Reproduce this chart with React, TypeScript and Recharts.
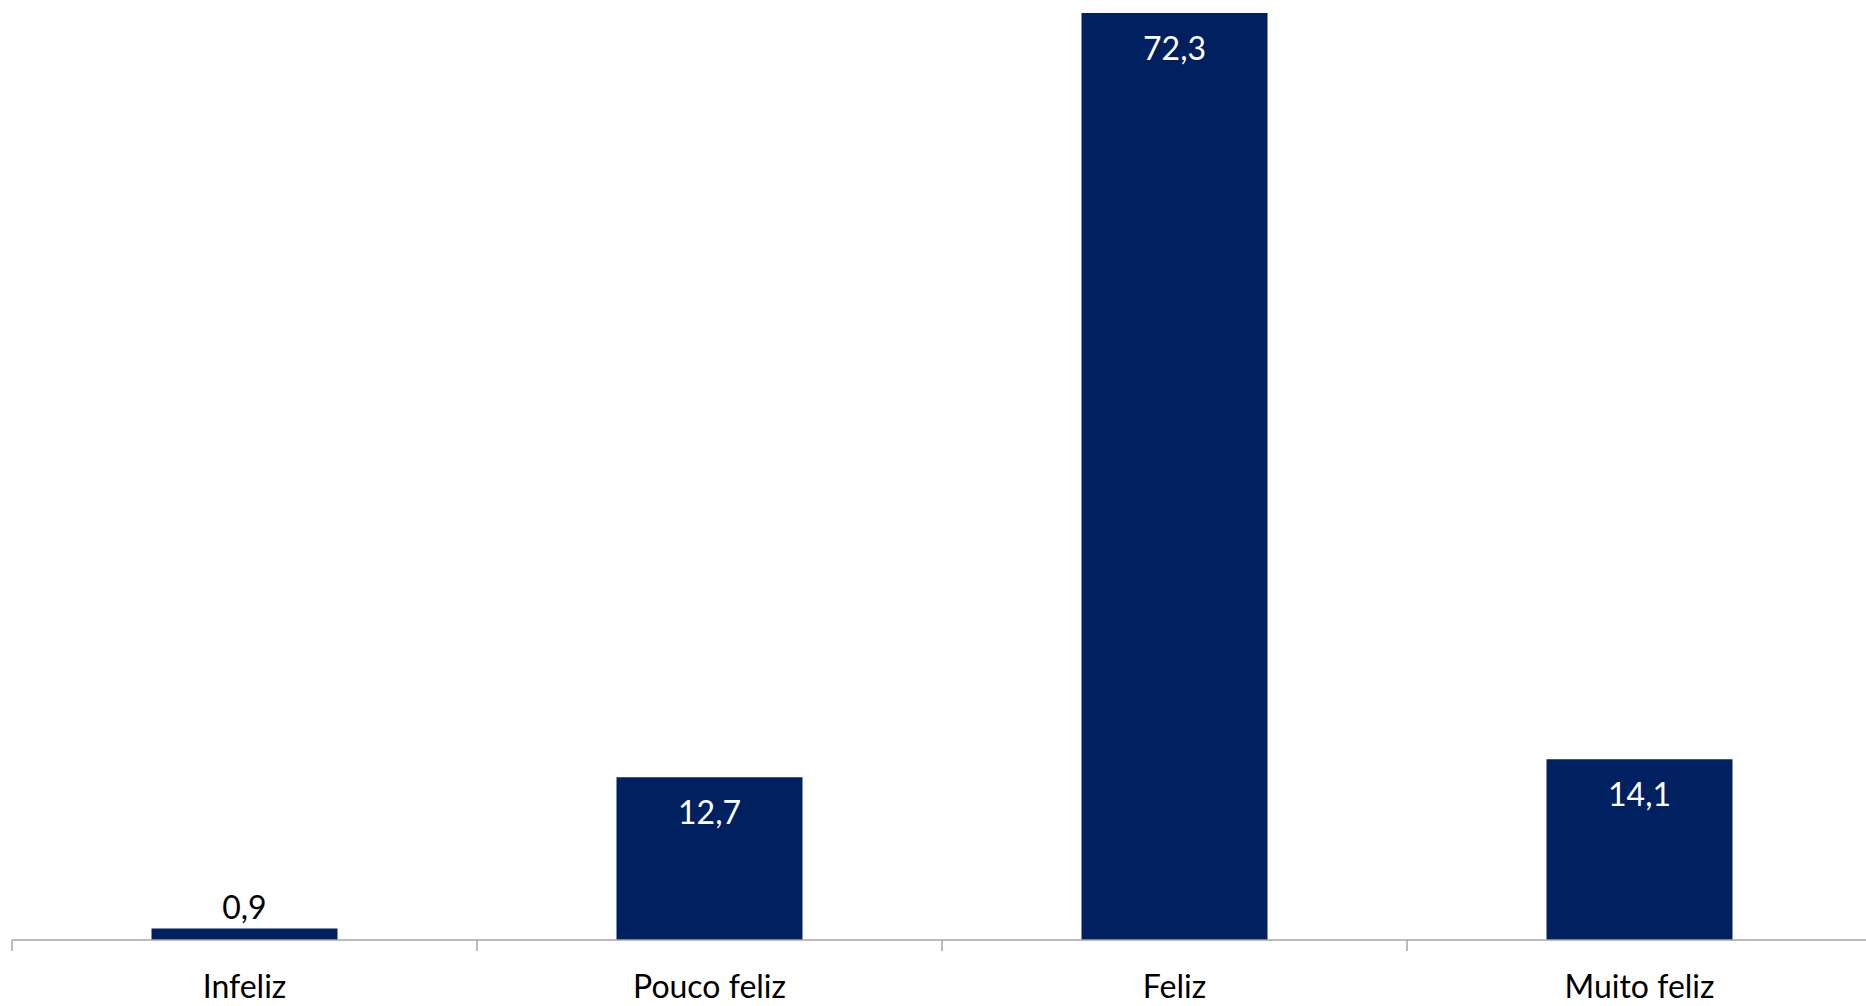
import { Bar, BarChart, LabelList, XAxis, YAxis } from 'recharts'

const categories = ['Infeliz', 'Pouco feliz', 'Feliz', 'Muito feliz']
const values = [0.9, 12.7, 72.3, 14.1]

const data = categories.map((name, i) => ({ name, value: values[i] }))

const W = 1866
const H = 1006
const LEFT = 12
const CHART_W = 1872
const BAND = (CHART_W - LEFT) / categories.length
const FONT = 'Lato, "Open Sans", sans-serif'
const FONT_SIZE = 32
const NAVY = '#002060'
const AXIS = '#a6a6a6'

// category label centred under the bar, plus an Excel-style tick mark on the left band edge
function CategoryTick(props: any) {
  const { x, y, payload } = props
  const edge = x - BAND / 2
  return (
    <g>
      <line x1={edge} x2={edge} y1={y} y2={y + 11} stroke={AXIS} strokeWidth={1.5} />
      <text x={x} y={y + 58} textAnchor="middle" fill="#000" fontFamily={FONT} fontSize={FONT_SIZE}>
        {payload.value}
      </text>
    </g>
  )
}

// small bars get their value above, the rest inside near the top in white
function ValueLabel(props: any) {
  const { x, y, width, height, value } = props
  const text = String(value).replace('.', ',')
  const cx = x + width / 2
  if (height < 40) {
    return (
      <text x={cx} y={y - 9} textAnchor="middle" fill="#000" fontFamily={FONT} fontSize={FONT_SIZE}>
        {text}
      </text>
    )
  }
  return (
    <text x={cx} y={y + 47} textAnchor="middle" fill="#fff" fontFamily={FONT} fontSize={FONT_SIZE}>
      {text}
    </text>
  )
}

export default function App() {
  return (
    <div style={{ position: 'absolute', left: 0, top: 0, width: W, height: H, overflow: 'hidden', background: '#fff' }}>
      <BarChart
        width={CHART_W}
        height={H}
        data={data}
        margin={{ top: 13, right: 0, bottom: 0, left: LEFT }}
        barCategoryGap="30%"
      >
        <XAxis
          dataKey="name"
          height={66}
          tickLine={false}
          tickSize={0}
          tickMargin={0}
          axisLine={{ stroke: AXIS, strokeWidth: 1.5 }}
          tick={<CategoryTick />}
          interval={0}
        />
        <YAxis hide domain={[0, 72.3]} />
        <Bar dataKey="value" fill={NAVY} isAnimationActive={false}>
          <LabelList dataKey="value" content={<ValueLabel />} />
        </Bar>
      </BarChart>
    </div>
  )
}
